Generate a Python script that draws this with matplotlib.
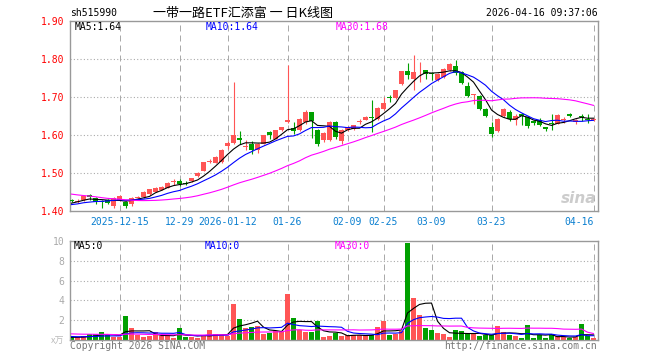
import matplotlib
matplotlib.use("Agg")
import matplotlib.pyplot as plt
import numpy as np
import pandas as pd

W, H = 660, 360

# trading calendar
start_date = "2025-12-03"
end_date = "2026-04-16"
holidays = ["2026-01-01", "2026-01-02", "2026-02-16", "2026-02-17", "2026-02-18",
            "2026-02-19", "2026-02-20", "2026-02-23", "2026-04-06"]
tick_dates = ["2025-12-15", "2025-12-29", "2026-01-12", "2026-01-26", "2026-02-09",
              "2026-02-25", "2026-03-09", "2026-03-23", "2026-04-16"]
tick_labels = ["2025-12-15", "12-29", "2026-01-12", "01-26", "02-09",
               "02-25", "03-09", "03-23", "04-16"]

opens = [1.430, 1.425, 1.429, 1.443, 1.436, 1.427, 1.430, 1.413, 1.428, 1.425,
         1.418, 1.436, 1.437, 1.445, 1.452, 1.456, 1.462, 1.476, 1.481, 1.475,
         1.479, 1.494, 1.506, 1.531, 1.528, 1.529, 1.573, 1.581, 1.594, 1.568,
         1.576, 1.562, 1.578, 1.609, 1.591, 1.614, 1.634, 1.620, 1.613, 1.635,
         1.661, 1.615, 1.587, 1.587, 1.635, 1.585, 1.613, 1.617, 1.634, 1.641,
         1.648, 1.644, 1.670, 1.702, 1.697, 1.734, 1.768, 1.747, 1.768, 1.771,
         1.765, 1.745, 1.754, 1.771, 1.782, 1.767, 1.729, 1.705, 1.703, 1.669,
         1.622, 1.611, 1.650, 1.661, 1.641, 1.657, 1.648, 1.638, 1.640, 1.621,
         1.632, 1.631, 1.641, 1.656, 1.634, 1.651, 1.643, 1.640]
highs = [1.433, 1.432, 1.442, 1.446, 1.438, 1.430, 1.432, 1.437, 1.442, 1.428,
         1.437, 1.440, 1.453, 1.459, 1.463, 1.466, 1.476, 1.484, 1.485, 1.479,
         1.488, 1.503, 1.530, 1.537, 1.545, 1.563, 1.584, 1.739, 1.611, 1.587,
         1.585, 1.579, 1.601, 1.611, 1.614, 1.623, 1.784, 1.635, 1.645, 1.666,
         1.662, 1.617, 1.609, 1.637, 1.637, 1.616, 1.624, 1.628, 1.642, 1.650,
         1.694, 1.674, 1.701, 1.705, 1.720, 1.770, 1.789, 1.811, 1.793, 1.772,
         1.767, 1.764, 1.777, 1.789, 1.799, 1.769, 1.740, 1.710, 1.705, 1.671,
         1.635, 1.646, 1.672, 1.666, 1.655, 1.659, 1.650, 1.641, 1.645, 1.622,
         1.657, 1.655, 1.648, 1.660, 1.644, 1.655, 1.655, 1.646]
lows = [1.424, 1.421, 1.427, 1.430, 1.420, 1.410, 1.418, 1.410, 1.426, 1.409,
        1.414, 1.434, 1.436, 1.444, 1.450, 1.455, 1.461, 1.470, 1.466, 1.468,
        1.478, 1.491, 1.505, 1.526, 1.527, 1.528, 1.565, 1.578, 1.576, 1.560,
        1.550, 1.553, 1.577, 1.591, 1.590, 1.611, 1.633, 1.604, 1.610, 1.629,
        1.594, 1.572, 1.583, 1.585, 1.590, 1.578, 1.611, 1.615, 1.629, 1.639,
        1.609, 1.641, 1.667, 1.688, 1.695, 1.732, 1.749, 1.718, 1.740, 1.749,
        1.745, 1.743, 1.752, 1.769, 1.758, 1.736, 1.700, 1.683, 1.666, 1.647,
        1.596, 1.609, 1.648, 1.638, 1.628, 1.628, 1.618, 1.628, 1.625, 1.612,
        1.615, 1.629, 1.632, 1.648, 1.630, 1.638, 1.632, 1.638]
closes = [1.427, 1.428, 1.440, 1.437, 1.425, 1.424, 1.421, 1.435, 1.439, 1.414,
          1.434, 1.438, 1.452, 1.458, 1.462, 1.465, 1.475, 1.478, 1.472, 1.473,
          1.487, 1.502, 1.529, 1.533, 1.543, 1.561, 1.581, 1.600, 1.588, 1.571,
          1.561, 1.578, 1.600, 1.600, 1.613, 1.621, 1.640, 1.611, 1.642, 1.661,
          1.638, 1.578, 1.606, 1.635, 1.596, 1.613, 1.622, 1.626, 1.636, 1.648,
          1.645, 1.671, 1.686, 1.699, 1.718, 1.768, 1.758, 1.767, 1.770, 1.762,
          1.762, 1.762, 1.775, 1.787, 1.764, 1.738, 1.703, 1.708, 1.669, 1.650,
          1.603, 1.644, 1.670, 1.644, 1.650, 1.650, 1.625, 1.632, 1.628, 1.616,
          1.629, 1.653, 1.643, 1.651, 1.641, 1.649, 1.641, 1.643]
# volume in 万 lots
volumes = [0.3, 0.3, 0.4, 0.6, 0.6, 0.8, 0.5, 0.3, 0.3, 2.4,
           1.2, 0.5, 0.3, 0.4, 0.8, 0.4, 0.5, 0.2, 1.2, 0.3,
           0.3, 0.2, 0.4, 1.0, 0.6, 0.5, 0.4, 3.6, 2.1, 1.2,
           1.3, 1.4, 0.6, 0.7, 0.9, 0.8, 4.6, 2.2, 1.0, 0.8,
           0.8, 1.9, 0.3, 0.4, 0.7, 0.4, 0.5, 0.5, 0.5, 0.5,
           0.5, 1.3, 1.9, 0.5, 0.6, 0.9, 9.8, 4.2, 2.5, 1.2,
           1.0, 0.7, 0.6, 0.3, 1.0, 0.9, 0.6, 0.6, 0.4, 0.5,
           0.5, 1.4, 0.8, 0.5, 0.4, 0.2, 1.5, 0.2, 0.5, 0.2,
           0.5, 0.4, 0.3, 0.2, 0.3, 1.6, 0.4, 0.2]

# history before the window, only used to start the moving averages
prior_closes = [1.49, 1.49, 1.48, 1.48, 1.49, 1.48, 1.47, 1.47, 1.46, 1.47,
                1.46, 1.46, 1.45, 1.45, 1.44, 1.44, 1.43, 1.43, 1.42, 1.42,
                1.41, 1.41, 1.42, 1.41, 1.42, 1.41, 1.42, 1.42, 1.43]
prior_volumes = [0.9, 0.8, 0.7, 0.9, 0.8, 0.7, 0.8, 0.9, 0.7, 0.8,
                 0.8, 0.7, 0.9, 0.8, 0.7, 0.8, 0.6, 0.8, 0.7, 0.8,
                 0.5, 0.4, 0.5, 0.4, 0.5, 0.3, 0.3, 0.3, 0.3]

price_ticks = [1.40, 1.50, 1.60, 1.70, 1.80, 1.90]
vol_ticks = [2, 4, 6, 8, 10]

RED = "#FF5555"
GREEN = "#00A000"
GRID = "#AAAAAA"
FRAME = "#999999"
MONO = "DejaVu Sans Mono"
CJK = ["Noto Sans CJK SC", "DejaVu Sans"]

dates = pd.bdate_range(start_date, end_date)
dates = dates[~dates.isin(pd.to_datetime(holidays))]
n = len(closes)
x = np.arange(n)
tick_idx = [int(np.where(dates == pd.Timestamp(d))[0][0]) for d in tick_dates]


def moving_avg(prior, values, k):
    s = pd.Series(prior + values)
    return s.rolling(k).mean().to_numpy()[len(prior):]


def px(xp, yp):
    return xp / W, 1 - yp / H


fig = plt.figure(figsize=(W / 100, H / 100), dpi=100)
ax = fig.add_axes([70 / W, 1 - 211.3 / H, 528 / W, 190 / H])
axv = fig.add_axes([70 / W, 1 - 340.3 / H, 528 / W, 99.6 / H])

for a in (ax, axv):
    for sp in a.spines.values():
        sp.set_color(FRAME)
        sp.set_linewidth(1)
    a.set_xlim(-0.25, n - 0.25)
    for t in tick_idx:
        a.axvline(t, color=GRID, lw=0.72, dashes=(6, 4), zorder=0)

# candles
up = np.array(closes) >= np.array(opens)
colors = np.where(up, RED, GREEN)
ax.vlines(x, lows, highs, colors=colors, lw=0.8, zorder=2)
body_lo = np.minimum(opens, closes)
body_h = np.maximum(np.abs(np.array(closes) - np.array(opens)), 0.0025)
ax.bar(x, body_h, bottom=body_lo, width=0.8, color=colors, linewidth=0, zorder=3)

ax.plot(x, moving_avg(prior_closes, closes, 5), color="black", lw=0.8, zorder=4)
ax.plot(x, moving_avg(prior_closes, closes, 10), color="#0000FF", lw=0.8, zorder=4)
ax.plot(x, moving_avg(prior_closes, closes, 30), color="#FF00FF", lw=0.8, zorder=4)

ax.set_ylim(1.40, 1.90)
ax.set_yticks(price_ticks)
ax.set_yticklabels([f"{p:.2f}" for p in price_ticks], family=MONO, fontsize=7, color="red")
for p in price_ticks[1:-1]:
    ax.axhline(p, color=GRID, lw=0.8, ls=(0, (1, 2)), zorder=0)
ax.set_xticks(tick_idx)
ax.set_xticklabels(tick_labels, family=MONO, fontsize=7, color="#0A7FD0")
ax.get_xticklabels()[-1].set_ha("right")
ax.tick_params(length=0, pad=4)

# volume
axv.bar(x, volumes, width=0.75, color=colors, linewidth=0, zorder=2)
axv.plot(x, moving_avg(prior_volumes, volumes, 5), color="black", lw=0.8, zorder=3)
axv.plot(x, moving_avg(prior_volumes, volumes, 10), color="#0000FF", lw=0.8, zorder=3)
axv.plot(x, moving_avg(prior_volumes, volumes, 30), color="#FF00FF", lw=0.8, zorder=3)
axv.set_ylim(0, 10)
axv.set_yticks(vol_ticks)
axv.set_yticklabels([str(v) for v in vol_ticks], family=MONO, fontsize=7, color=GRID)
for v in vol_ticks[:-1]:
    axv.axhline(v, color=GRID, lw=0.8, ls=(0, (1, 2)), zorder=0)
axv.set_xticks([])
axv.tick_params(length=0, pad=4)

# texts
fig.text(*px(70, 13.5), "sh515990", family=MONO, fontsize=7, va="center")
fig.text(*px(243, 13.5), "一带一路ETF汇添富 一 日K线图", family=CJK, fontsize=9.4,
         ha="center", va="center")
fig.text(*px(598, 13.5), "2026-04-16 09:37:06", family=MONO, fontsize=7,
         ha="right", va="center")

fig.text(*px(75, 27), "MA5:1.64", family=MONO, fontsize=7, color="black", va="center")
fig.text(*px(206, 27), "MA10:1.64", family=MONO, fontsize=7, color="#0000FF", va="center")
fig.text(*px(336, 27), "MA30:1.68", family=MONO, fontsize=7, color="#FF00FF", va="center")

fig.text(*px(74, 246), "MA5:0", family=MONO, fontsize=7, color="black", va="center")
fig.text(*px(205, 246), "MA10:0", family=MONO, fontsize=7, color="#0000FF", va="center")
fig.text(*px(335, 246), "MA30:0", family=MONO, fontsize=7, color="#FF00FF", va="center")

fig.text(*px(64, 341), "x万", family=CJK, fontsize=6.5, color="#BBBBBB",
         ha="right", va="center")
fig.text(*px(70, 346), "Copyright 2026 SINA.COM", family=MONO, fontsize=7,
         color="#777777", va="center")
fig.text(*px(597, 346), "http://finance.sina.com.cn", family=MONO, fontsize=7,
         color="#777777", ha="right", va="center")
fig.text(*px(596, 206), "sina", fontsize=11, style="italic", weight="bold",
         color="#CCCCCC", ha="right", va="bottom")

fig.savefig("out.png", dpi=100)
